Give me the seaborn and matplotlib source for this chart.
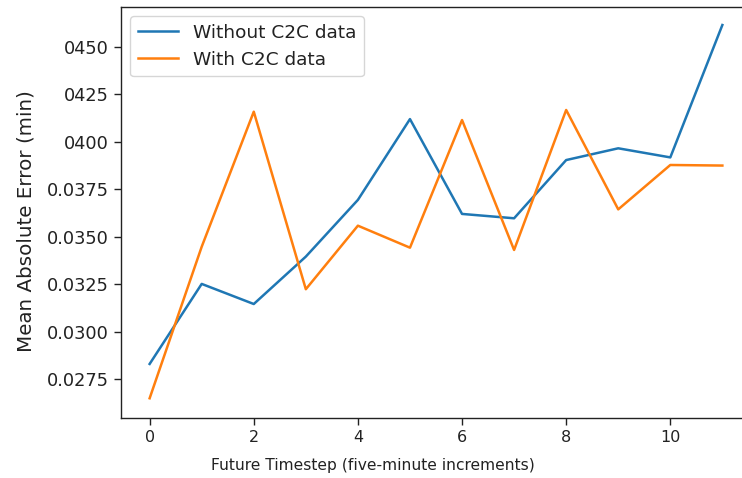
import matplotlib
matplotlib.use("Agg")
import matplotlib.pyplot as plt
import seaborn as sns
import pandas as pd

# Mean absolute error per forecast horizon
timesteps = list(range(12))
without_c2c = [0.02829, 0.03251, 0.03145, 0.03395, 0.03694, 0.04120,
               0.03620, 0.03597, 0.03904, 0.03966, 0.03918, 0.04616]
with_c2c = [0.02648, 0.03447, 0.04159, 0.03223, 0.03558, 0.03442,
            0.04115, 0.03430, 0.04168, 0.03644, 0.03878, 0.03875]
series_names = ["Without C2C data", "With C2C data"]

ytick_values = [0.0275, 0.0300, 0.0325, 0.0350, 0.0375, 0.0400, 0.0425, 0.0450]
ytick_labels = ["0.0275", "0.0300", "0.0325", "0.0350", "0.0375", "0400", "0425", "0450"]
xtick_values = [0, 2, 4, 6, 8, 10]

df = pd.DataFrame({
    "step": timesteps * 2,
    "mae": without_c2c + with_c2c,
    "series": [series_names[0]] * len(timesteps) + [series_names[1]] * len(timesteps),
})

plt.rcParams["font.family"] = ["DejaVu Sans"]
plt.rcParams["axes.edgecolor"] = "#222222"
plt.rcParams["axes.linewidth"] = 1.0

fig = plt.figure(figsize=(7.42, 4.78), dpi=100)
ax = fig.add_axes([121 / 742, 60 / 478, 630 / 742, 411 / 478])

sns.lineplot(data=df, x="step", y="mae", hue="series", hue_order=series_names,
             palette=["#1f77b4", "#ff7f0e"], linewidth=1.8, ax=ax)

ax.set_xlim(-0.55, 11.55)
ax.set_ylim(0.02544, 0.04711)
ax.set_xticks(xtick_values)
ax.set_yticks(ytick_values)
ax.set_yticklabels(ytick_labels)
ax.tick_params(axis="both", length=5, width=1.0, color="#222222")
ax.tick_params(axis="y", labelsize=12.8, labelcolor="#222222")
ax.tick_params(axis="x", labelsize=11.5, labelcolor="#222222")

ax.set_xlabel("Future Timestep (five-minute increments)", fontsize=11.2, color="#222222")
ax.set_ylabel("Mean Absolute Error (min)", fontsize=14.3, color="#222222")
ax.xaxis.set_label_coords(0.40, -0.098)
ax.yaxis.set_label_coords(-0.136, 0.479)

leg = ax.legend(loc="upper left", title=None, fontsize=13.3, handlelength=2.2)
for t in leg.get_texts():
    t.set_color("#222222")

fig.savefig("out.png", dpi=100)
